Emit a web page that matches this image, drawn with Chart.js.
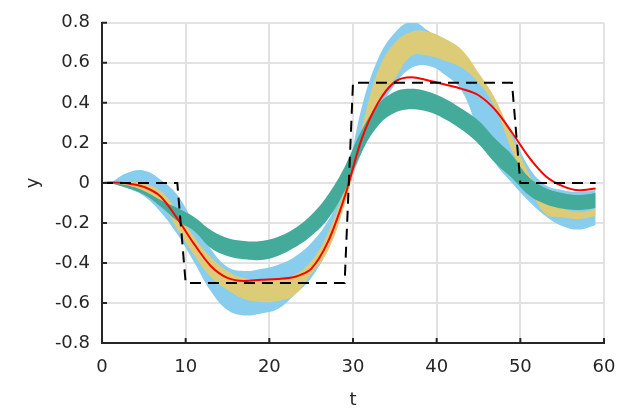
<!DOCTYPE html>
<html>
<head>
<meta charset="utf-8">
<script src="https://cdn.jsdelivr.net/npm/chart.js@4/dist/chart.umd.min.js"></script>
<style>
  html, body { margin: 0; padding: 0; background: #ffffff; overflow: hidden; }
  #wrap { width: 630px; height: 411px; }
</style>
</head>
<body>
<div id="wrap"><canvas id="c" width="630" height="411" style="width:630px;height:411px;"></canvas></div>
<script>
// ---- data ----
const xTicks = [0, 10, 20, 30, 40, 50, 60];
const yTicks = [-0.8, -0.6, -0.4, -0.2, 0, 0.2, 0.4, 0.6, 0.8];
const yTickLabels = ['-0.8', '-0.6', '-0.4', '-0.2', '0', '0.2', '0.4', '0.6', '0.8'];

// reference step signal (dashed)
const tStep = [0, 9, 10, 29, 30, 49, 50, 59];
const vStep = [0, 0, -0.5, -0.5, 0.5, 0.5, 0, 0];

// red line
const tRed = [0, 1, 3, 5, 7, 9, 11, 13, 15, 17, 19, 21, 23, 24, 25, 27, 29, 31, 33, 35, 37, 39, 41, 43, 45, 47, 49, 51, 53, 55, 57, 59];
const vRed = [0, 0.002, -0.002, -0.02, -0.068, -0.178, -0.305, -0.415, -0.475, -0.49, -0.484, -0.48, -0.47, -0.455, -0.43, -0.295, -0.07, 0.215, 0.40, 0.505, 0.528, 0.512, 0.492, 0.47, 0.438, 0.365, 0.252, 0.13, 0.035, -0.015, -0.037, -0.028];

// bands (sampled at odd t)
const tBand = [1, 3, 5, 7, 9, 11, 13, 15, 17, 19, 21, 23, 25, 27, 29, 31, 33, 35, 37, 39, 41, 43, 45, 47, 49, 51, 53, 55, 57, 59];

const blueUpper = [0, 0.05, 0.062, 0.016, -0.06, -0.2, -0.33, -0.42, -0.44, -0.43, -0.41, -0.37, -0.30, -0.19, -0.01, 0.37, 0.62, 0.75, 0.805, 0.76, 0.70, 0.62, 0.53, 0.40, 0.25, 0.08, -0.01, -0.035, -0.045, -0.036];
const blueLower = [0, -0.025, -0.065, -0.145, -0.257, -0.396, -0.54, -0.635, -0.662, -0.652, -0.63, -0.56, -0.475, -0.33, -0.08, 0.15, 0.35, 0.49, 0.575, 0.585, 0.54, 0.46, 0.26, 0.10, 0.0, -0.09, -0.165, -0.215, -0.233, -0.21];

const yellowUpper = [0, 0.005, -0.003, -0.04, -0.14, -0.27, -0.37, -0.44, -0.475, -0.485, -0.48, -0.46, -0.39, -0.25, -0.03, 0.27, 0.56, 0.70, 0.755, 0.755, 0.72, 0.665, 0.55, 0.42, 0.23, 0.05, -0.09, -0.125, -0.145, -0.13];
const yellowLower = [0, -0.02, -0.045, -0.10, -0.23, -0.36, -0.47, -0.535, -0.58, -0.595, -0.59, -0.56, -0.455, -0.34, -0.11, 0.19, 0.40, 0.52, 0.635, 0.635, 0.61, 0.575, 0.50, 0.375, 0.16, -0.01, -0.155, -0.172, -0.18, -0.165];

const tealUpper = [0, -0.012, -0.04, -0.085, -0.125, -0.17, -0.235, -0.275, -0.29, -0.29, -0.27, -0.228, -0.16, -0.06, 0.08, 0.26, 0.39, 0.455, 0.47, 0.455, 0.42, 0.37, 0.31, 0.22, 0.14, 0.03, -0.025, -0.05, -0.06, -0.05];
const tealLower = [0, -0.025, -0.058, -0.118, -0.19, -0.24, -0.325, -0.365, -0.382, -0.385, -0.365, -0.323, -0.265, -0.18, -0.04, 0.15, 0.285, 0.35, 0.368, 0.355, 0.318, 0.265, 0.195, 0.10, 0.025, -0.06, -0.105, -0.128, -0.135, -0.125];

// ---- build ----
const pts = (xs, ys) => xs.map((x, i) => ({ x: x, y: ys[i] }));
const BLUE = '#88CCEE', YELLOW = '#DDCC77', TEAL = '#44AA99';
const AXIS = '#262626';
const FONT = 'DejaVu Sans';

function band(data, fill, color) {
  return {
    data: data, fill: fill, backgroundColor: color, borderWidth: 0,
    pointRadius: 0, tension: 0.4, borderColor: 'rgba(0,0,0,0)'
  };
}

const datasets = [
  { data: pts(tStep, vStep), borderColor: '#000000', borderWidth: 2, borderDash: [11, 7], pointRadius: 0, tension: 0, fill: false },
  { data: pts(tRed, vRed), borderColor: '#FF0000', borderWidth: 2, pointRadius: 0, cubicInterpolationMode: 'monotone', fill: false },
  band(pts(tBand, tealUpper), false, TEAL),
  band(pts(tBand, tealLower), 2, TEAL),
  band(pts(tBand, yellowUpper), false, YELLOW),
  band(pts(tBand, yellowLower), 4, YELLOW),
  band(pts(tBand, blueUpper), false, BLUE),
  band(pts(tBand, blueLower), 6, BLUE)
];

const innerTicks = {
  id: 'innerTicks',
  afterDraw(chart) {
    const { ctx, chartArea: a, scales } = chart;
    ctx.save();
    ctx.strokeStyle = AXIS;
    ctx.lineWidth = 2;
    ctx.beginPath();
    xTicks.forEach(v => {
      const p = scales.x.getPixelForValue(v);
      ctx.moveTo(p, a.bottom); ctx.lineTo(p, a.bottom - 5);
    });
    yTicks.forEach(v => {
      const p = scales.y.getPixelForValue(v);
      ctx.moveTo(a.left, p); ctx.lineTo(a.left + 5, p);
    });
    ctx.stroke();
    ctx.restore();
  }
};

new Chart(document.getElementById('c'), {
  type: 'line',
  data: { datasets: datasets },
  plugins: [innerTicks],
  options: {
    responsive: false,
    devicePixelRatio: 1,
    animation: false,
    layout: { padding: { left: 0, right: 26, top: 18, bottom: 0 } },
    plugins: { legend: { display: false }, tooltip: { enabled: false } },
    scales: {
      x: {
        type: 'linear', min: 0, max: 60,
        afterBuildTicks: s => { s.ticks = xTicks.map(v => ({ value: v })); },
        afterFit: s => { s.height = 68; },
        grid: { color: '#e2e2e2', lineWidth: 2, drawTicks: false },
        border: { display: true, color: AXIS, width: 2 },
        ticks: { padding: 14, color: AXIS, font: { family: FONT, size: 18 }, maxRotation: 0, callback: v => String(v) },
        title: { display: true, text: 't', color: AXIS, font: { family: FONT, size: 18 }, padding: { top: 0, bottom: 0 } }
      },
      y: {
        type: 'linear', min: -0.8, max: 0.8,
        afterBuildTicks: s => { s.ticks = yTicks.map(v => ({ value: v })); },
        afterFit: s => { s.width = 102; },
        grid: { color: '#e2e2e2', lineWidth: 2, drawTicks: false },
        border: { display: true, color: AXIS, width: 2 },
        ticks: {
          padding: 12, color: AXIS, font: { family: FONT, size: 18 },
          callback: v => { let best = 0; yTicks.forEach((t, i) => { if (Math.abs(t - v) < Math.abs(yTicks[best] - v)) best = i; }); return yTickLabels[best]; }
        },
        title: { display: true, text: 'y', color: AXIS, font: { family: FONT, size: 18 }, padding: { top: 23, bottom: 0 } }
      }
    }
  }
});
</script>
</body>
</html>
